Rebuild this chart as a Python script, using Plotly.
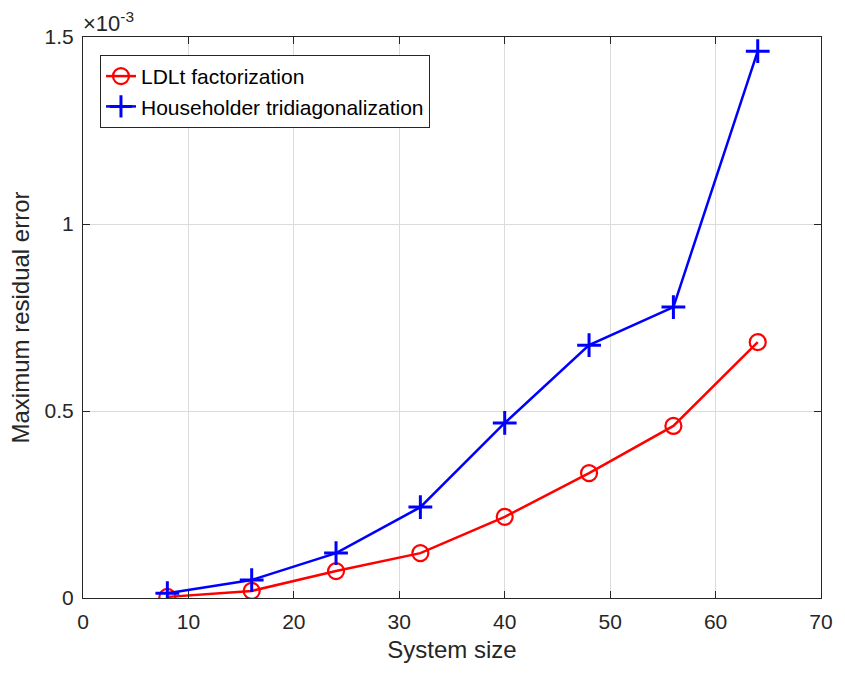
import plotly.graph_objects as go

# System sizes and maximum residual errors for both methods
system_size = [8, 16, 24, 32, 40, 48, 56, 64]
ldlt_error = [0.003e-3, 0.019e-3, 0.072e-3, 0.120e-3, 0.217e-3, 0.334e-3, 0.460e-3, 0.684e-3]
householder_error = [0.013e-3, 0.048e-3, 0.120e-3, 0.243e-3, 0.468e-3, 0.676e-3, 0.778e-3, 1.462e-3]

x_ticks = [0, 10, 20, 30, 40, 50, 60, 70]
y_ticks = [0, 0.5e-3, 1.0e-3, 1.5e-3]
y_tick_labels = ["0", "0.5", "1", "1.5"]

font_family = "Liberation Sans, Arial, Helvetica, sans-serif"
axis_color = "#262626"

fig = go.Figure()
fig.add_trace(go.Scatter(
    x=system_size, y=ldlt_error, mode="lines+markers",
    name="LDLt factorization",
    line=dict(color="#ff0000", width=2.5),
    marker=dict(symbol="circle-open", size=16, color="#ff0000",
                line=dict(width=2.2, color="#ff0000")),
))
fig.add_trace(go.Scatter(
    x=system_size, y=householder_error, mode="lines+markers",
    name="Householder tridiagonalization",
    line=dict(color="#0000ff", width=2.5),
    marker=dict(symbol="cross-thin-open", size=17, color="#0000ff",
                line=dict(width=3, color="#0000ff")),
))

axis_common = dict(
    showline=True, linecolor=axis_color, linewidth=1, mirror="ticks",
    ticks="inside", ticklen=7, tickcolor=axis_color, tickwidth=1,
    showgrid=True, gridcolor="#dcdcdc", gridwidth=1, zeroline=False,
    tickfont=dict(family=font_family, size=21, color=axis_color),
)

fig.update_xaxes(
    range=[0, 70], tickvals=x_ticks, ticklabelstandoff=5,
    title=dict(text="System size", font=dict(family=font_family, size=24, color=axis_color), standoff=8),
    **axis_common,
)
fig.update_yaxes(
    range=[0, 1.5e-3], tickvals=y_ticks, ticktext=y_tick_labels, ticklabelstandoff=4,
    title=dict(text="Maximum residual error", font=dict(family=font_family, size=24, color=axis_color), standoff=8),
    **axis_common,
)

# Common exponent shown above the y axis
fig.add_annotation(
    xref="paper", yref="paper", x=0.0, y=1.0, xanchor="left", yanchor="bottom",
    text="×10<sup>-3</sup>", showarrow=False, yshift=-1, xshift=-2,
    font=dict(family=font_family, size=22, color=axis_color),
)

fig.update_layout(
    width=845, height=677,
    margin=dict(l=83, r=19, t=37, b=79),
    paper_bgcolor="white", plot_bgcolor="white",
    showlegend=True,
    legend=dict(
        x=0.023, y=0.968, xanchor="left", yanchor="top",
        bgcolor="white", bordercolor=axis_color, borderwidth=1,
        font=dict(family=font_family, size=21, color="#000000"),
        tracegroupgap=0, itemwidth=30,
    ),
)

fig.write_html("out.html")
